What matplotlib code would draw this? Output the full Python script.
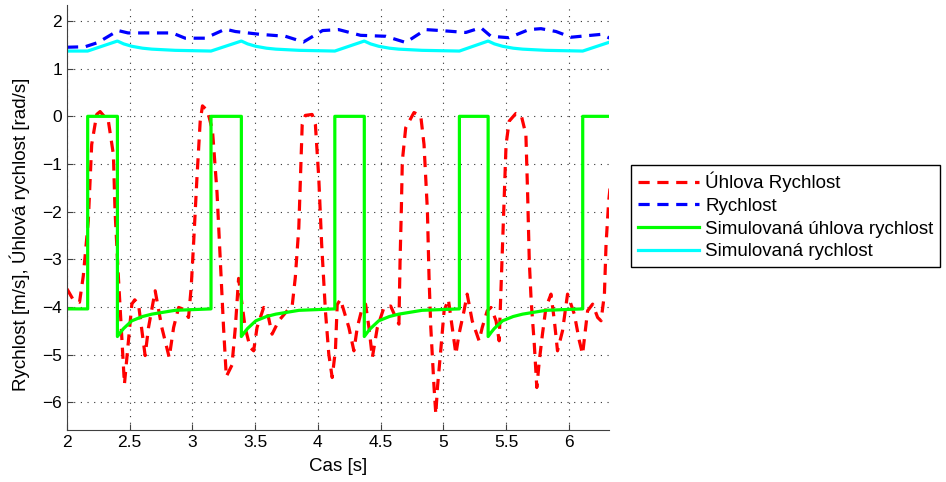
import numpy as np
import matplotlib
matplotlib.use("Agg")
import matplotlib.pyplot as plt

plt.rcParams["font.family"] = ["Liberation Sans", "DejaVu Sans"]

# Uhlova rychlost (mereni)
uhel_t = [2.000, 2.050, 2.100, 2.130, 2.170, 2.197, 2.237, 2.264, 2.330, 2.370,
          2.383, 2.410, 2.437, 2.458, 2.490, 2.517, 2.540, 2.570, 2.623, 2.650,
          2.703, 2.756, 2.815, 2.850, 2.890, 2.930, 2.969, 2.990, 3.009, 3.036,
          3.062, 3.080, 3.120, 3.160, 3.196, 3.222, 3.248, 3.270, 3.315, 3.342,
          3.368, 3.420, 3.460, 3.488, 3.515, 3.568, 3.595, 3.635, 3.688, 3.755,
          3.795, 3.820, 3.848, 3.861, 3.875, 3.900, 3.954, 3.980, 4.007, 4.030,
          4.060, 4.087, 4.114, 4.140, 4.154, 4.180, 4.247, 4.287, 4.314, 4.354,
          4.380, 4.407, 4.434, 4.474, 4.527, 4.580, 4.620, 4.646, 4.655, 4.665,
          4.673, 4.700, 4.766, 4.820, 4.846, 4.873, 4.886, 4.900, 4.926, 4.940,
          4.953, 4.979, 5.006, 5.040, 5.100, 5.125, 5.165, 5.190, 5.230, 5.285,
          5.310, 5.350, 5.380, 5.420, 5.445, 5.458, 5.472, 5.485, 5.500, 5.525,
          5.578, 5.620, 5.658, 5.672, 5.685, 5.700, 5.725, 5.745, 5.765, 5.790,
          5.818, 5.858, 5.885, 5.910, 5.950, 5.990, 6.044, 6.084, 6.110, 6.150,
          6.190, 6.230, 6.257, 6.284, 6.297, 6.318, 6.337]
uhel_v = [-3.62, -3.85, -3.90, -3.35, -2.19, -0.59, 0.04, 0.10, -0.10, -0.80,
          -1.98, -3.38, -4.64, -5.62, -4.71, -3.94, -3.85, -3.94, -5.02, -4.43,
          -3.66, -4.43, -5.06, -4.43, -4.01, -4.05, -4.22, -3.59, -2.68, -1.29,
          -0.10, 0.22, 0.12, -0.30, -1.60, -3.00, -4.43, -5.46, -5.22, -4.43,
          -3.40, -4.43, -4.85, -4.92, -4.43, -4.01, -4.08, -4.57, -4.29, -4.08,
          -3.98, -3.38, -2.33, -1.29, -0.17, 0.02, 0.04, -0.17, -1.29, -2.68,
          -4.08, -4.99, -5.48, -4.90, -3.95, -3.84, -4.43, -4.92, -4.43, -4.01,
          -3.94, -4.43, -5.06, -4.43, -4.01, -3.98, -4.22, -4.36, -3.03, -1.98,
          -0.94, -0.24, 0.08, 0.01, -0.59, -1.98, -3.38, -4.43, -5.69, -6.25,
          -5.69, -4.92, -4.08, -3.84, -4.99, -4.57, -4.08, -3.73, -4.29, -4.71,
          -4.43, -4.08, -4.01, -4.29, -4.71, -3.73, -2.68, -1.64, -0.59, -0.10,
          0.06, 0.03, -0.38, -1.64, -3.03, -3.87, -4.78, -5.69, -5.13, -4.57,
          -4.01, -3.73, -4.29, -4.92, -4.50, -3.73, -4.15, -4.71, -4.99, -4.08,
          -3.94, -4.22, -4.29, -3.73, -2.68, -1.78, -1.29]

# Rychlost (mereni)
rychl_t = [2.000, 2.144, 2.248, 2.407, 2.487, 2.743, 2.839, 2.942, 3.102, 3.262,
           3.342, 3.541, 3.741, 3.885, 4.037, 4.165, 4.340, 4.540, 4.700, 4.859,
           4.979, 5.179, 5.299, 5.379, 5.523, 5.682, 5.778, 5.898, 6.018, 6.177,
           6.257, 6.337]
rychl_v = [1.45, 1.46, 1.55, 1.80, 1.75, 1.75, 1.75, 1.64, 1.64, 1.83,
           1.78, 1.72, 1.68, 1.56, 1.80, 1.82, 1.70, 1.68, 1.55, 1.82,
           1.80, 1.76, 1.86, 1.68, 1.65, 1.82, 1.84, 1.78, 1.66, 1.70,
           1.72, 1.63]

# Simulovana uhlova rychlost
sim_uhel_t = [2.000, 2.165, 2.165, 2.402, 2.402, 2.427, 2.452, 2.517, 2.602, 2.677, 2.862, 3.148,
              3.148, 3.390, 3.390, 3.415, 3.440, 3.505, 3.590, 3.665, 3.850, 4.135,
              4.135, 4.370, 4.370, 4.395, 4.420, 4.485, 4.570, 4.645, 4.830, 5.128,
              5.128, 5.357, 5.357, 5.382, 5.407, 5.472, 5.557, 5.632, 5.817, 6.111,
              6.111, 6.340]
sim_uhel_v = [-4.04, -4.04, 0.0, 0.0, -4.62, -4.53, -4.45, -4.29, -4.20, -4.15, -4.07, -4.04,
              0.0, 0.0, -4.62, -4.53, -4.45, -4.29, -4.20, -4.15, -4.07, -4.04,
              0.0, 0.0, -4.62, -4.53, -4.45, -4.29, -4.20, -4.15, -4.07, -4.04,
              0.0, 0.0, -4.62, -4.53, -4.45, -4.29, -4.20, -4.15, -4.07, -4.04,
              0.0, 0.0]

# Simulovana rychlost
sim_rychl_t = [2.000, 2.165, 2.402, 2.427, 2.452, 2.517, 2.602, 2.677, 2.862, 3.148,
               3.390, 3.415, 3.440, 3.505, 3.590, 3.665, 3.850, 4.135,
               4.370, 4.395, 4.420, 4.485, 4.570, 4.645, 4.830, 5.128,
               5.357, 5.382, 5.407, 5.472, 5.557, 5.632, 5.817, 6.111, 6.340]
sim_rychl_v = [1.37, 1.37, 1.58, 1.55, 1.52, 1.47, 1.43, 1.41, 1.385, 1.37,
               1.58, 1.55, 1.52, 1.47, 1.43, 1.41, 1.385, 1.37,
               1.58, 1.55, 1.52, 1.47, 1.43, 1.41, 1.385, 1.37,
               1.58, 1.55, 1.52, 1.47, 1.43, 1.41, 1.385, 1.37, 1.57]

labels = ["Úhlova Rychlost", "Rychlost", "Simulovaná úhlova rychlost", "Simulovaná rychlost"]

fig = plt.figure(figsize=(9.46, 4.82), dpi=100)
ax = fig.add_axes([0.0708, 0.108, 0.5729, 0.882])

dash = (0, (3.5, 2.4))
ax.plot(uhel_t, uhel_v, color="#ff0000", lw=2.3, linestyle=dash, label=labels[0])
ax.plot(rychl_t, rychl_v, color="#0000ff", lw=2.3, linestyle=dash, label=labels[1])
ax.plot(sim_uhel_t, sim_uhel_v, color="#00ff00", lw=2.3, label=labels[2])
ax.plot(sim_rychl_t, sim_rychl_v, color="#00ffff", lw=2.3, label=labels[3])

ax.set_xlim(2, 6.32)
ax.set_ylim(-6.58, 2.34)
ax.set_xticks(np.arange(2, 6.01, 0.5))
ax.set_xticklabels(["2", "2.5", "3", "3.5", "4", "4.5", "5", "5.5", "6"])
ax.set_yticks(np.arange(-6, 2.01, 1))
ax.tick_params(direction="in", labelsize=12.5, length=4, color="0.25")
ax.grid(True, linestyle=(0, (1, 5)), color="0.2", lw=0.8)

for s in ["top", "right"]:
    ax.spines[s].set_visible(False)
for s in ["left", "bottom"]:
    ax.spines[s].set_color("0.25")

ax.set_xlabel("Cas [s]", fontsize=13.5, labelpad=6)
ax.set_ylabel("Rychlost [m/s], Úhlová rychlost [rad/s]", fontsize=13.5)
ax.yaxis.set_label_coords(-0.068, 0.46)

leg = fig.legend(loc="upper left", bbox_to_anchor=(631 / 946, 1 - 165 / 482),
                 fontsize=13.5, handlelength=3.3, handletextpad=0.3,
                 borderpad=0.35, labelspacing=0.3, fancybox=False,
                 framealpha=1, edgecolor="black", borderaxespad=0)
leg.get_frame().set_linewidth(1.0)

plt.savefig("out.png", dpi=100)
plt.close()
